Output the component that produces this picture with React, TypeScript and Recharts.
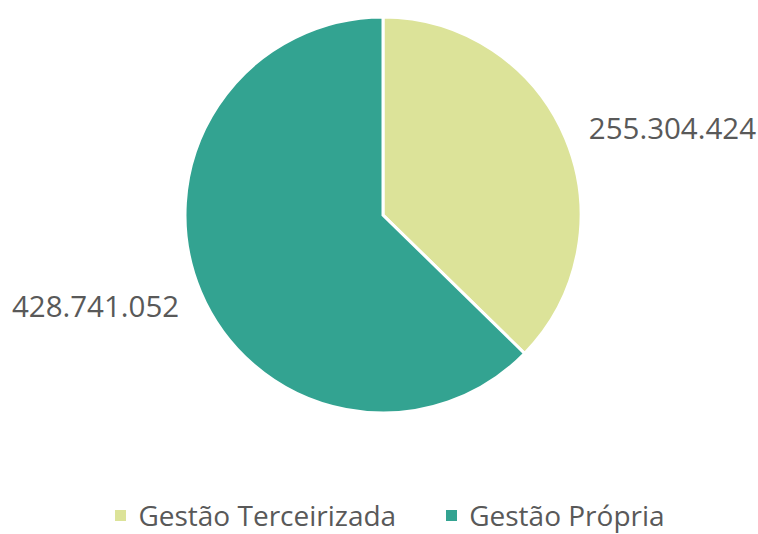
import React from "react";
import { PieChart, Pie, Cell, Legend } from "recharts";

const categories = ["Gestão Terceirizada", "Gestão Própria"];
const values = [255304424, 428741052];
const labels = ["255.304.424", "428.741.052"];
const colors = ["#DCE399", "#33A391"];

const data = categories.map((name, i) => ({ name, value: values[i], label: labels[i] }));

const RAD = Math.PI / 180;

const renderLabel = (props: any) => {
  const { cx, cy, midAngle, outerRadius, index } = props;
  const r = outerRadius + 22;
  const x = cx + r * Math.cos(-midAngle * RAD);
  const y = cy + r * Math.sin(-midAngle * RAD);
  const right = x > cx;
  return (
    <text
      x={x + (right ? 3 : -1)}
      y={y + (right ? -2 : 5)}
      textAnchor={right ? "start" : "end"}
      dominantBaseline="central"
      fill="#595959"
      fontSize={29.5}
      fontFamily="'Open Sans', sans-serif"
    >
      {labels[index]}
    </text>
  );
};

const renderLegend = () => (
  <div
    style={{
      display: "flex",
      justifyContent: "center",
      alignItems: "center",
      gap: 50,
      fontFamily: "'Open Sans', sans-serif",
      fontSize: 28,
      lineHeight: "38px",
      color: "#595959",
      marginLeft: 22,
    }}
  >
    {categories.map((c, i) => (
      <div key={c} style={{ display: "flex", alignItems: "center" }}>
        <span
          style={{
            display: "inline-block",
            width: 11,
            height: 11,
            background: colors[i],
            marginRight: 12,
          }}
        />
        <span>{c}</span>
      </div>
    ))}
  </div>
);

export default function App() {
  return (
    <div style={{ position: "absolute", left: 0, top: 0, background: "#fff" }}>
      <PieChart width={758} height={534}>
        <Pie
          data={data}
          dataKey="value"
          nameKey="name"
          cx={378}
          cy={210}
          outerRadius={198}
          startAngle={90}
          endAngle={-270}
          stroke="#ffffff"
          strokeWidth={3}
          label={renderLabel}
          labelLine={false}
          isAnimationActive={false}
        >
          {data.map((d, i) => (
            <Cell key={d.name} fill={colors[i]} />
          ))}
        </Pie>
        <Legend
          verticalAlign="bottom"
          content={renderLegend}
          wrapperStyle={{ bottom: 0, left: 0, width: 758 }}
        />
      </PieChart>
    </div>
  );
}
